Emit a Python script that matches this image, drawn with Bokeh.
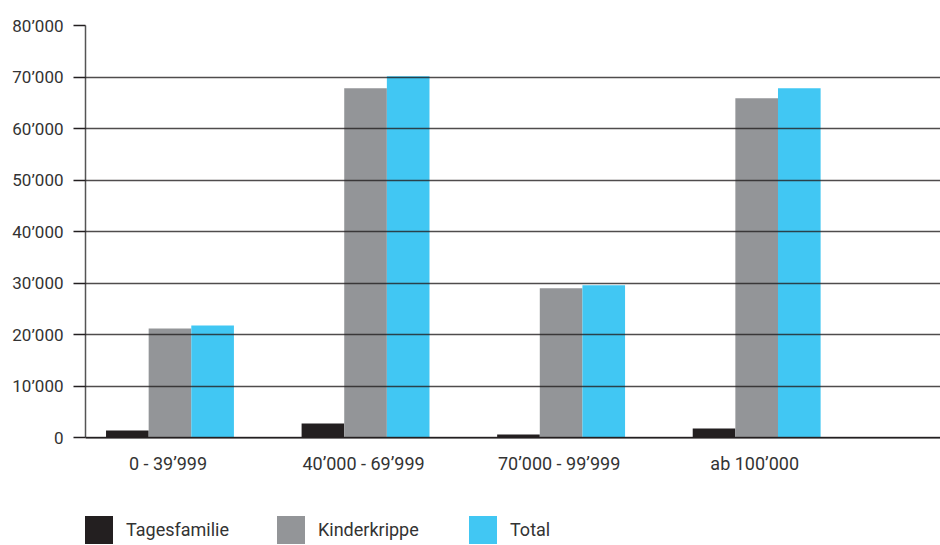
import numpy as np
from bokeh.plotting import figure
from bokeh.models import ColumnDataSource, FixedTicker, Legend, LegendItem, Range1d, Span
from bokeh.transform import dodge
from bokeh.core.properties import value
from bokeh.embed import file_html
from bokeh.resources import INLINE

categories = ["0 - 39’999", "40’000 - 69’999", "70’000 - 99’999", "ab 100’000"]
tagesfamilie = [1420, 2780, 640, 1800]
kinderkrippe = [21200, 67800, 29000, 65900]
total = [21800, 70150, 29600, 67800]
y_ticks = [0, 10000, 20000, 30000, 40000, 50000, 60000, 70000, 80000]
y_tick_labels = ["0", "10’000", "20’000", "30’000", "40’000", "50’000", "60’000", "70’000", "80’000"]

series_names = ["Tagesfamilie", "Kinderkrippe", "Total"]
colors = ["#231f20", "#939598", "#41c7f3"]

FONT = "Roboto"
TEXT = "#333333"

xs = np.arange(len(categories))
bw = 0.218
offsets = [-bw, 0.0, bw]

src = ColumnDataSource(dict(x=xs, t=tagesfamilie, k=kinderkrippe, tot=total,
                            cat=categories, zero=[0] * len(categories)))

p = figure(width=940, height=545, output_backend="svg", toolbar_location=None,
           x_range=Range1d(-0.432, 3.94), y_range=Range1d(-20900, 80000),
           x_axis_type=None,
           min_border_left=85, min_border_right=0, min_border_top=25, min_border_bottom=0)
p.outline_line_color = None
p.background_fill_color = "white"

renderers = []
for col, off, c in zip(["t", "k", "tot"], offsets, colors):
    r = p.vbar(x=dodge("x", off), top=col, width=bw, bottom=0, source=src,
               fill_color=c, line_color=None)
    renderers.append(r)

# category labels under the baseline
p.text(x="x", y="zero", text="cat", source=src, text_align="center", text_baseline="middle",
       x_offset=-2, y_offset=26, text_font=value(FONT), text_font_size="18px", text_color=TEXT)

p.yaxis.ticker = FixedTicker(ticks=y_ticks)
p.yaxis.bounds = (0, 80000)
p.yaxis.major_label_overrides = {v: l for v, l in zip(y_ticks, y_tick_labels)}
p.yaxis.major_tick_out = 12
p.yaxis.major_tick_in = 0
p.yaxis.major_tick_line_color = "#231f20"
p.yaxis.major_tick_line_width = 1.5
p.yaxis.minor_tick_line_color = None
p.yaxis.axis_line_color = "#555555"
p.yaxis.axis_line_width = 1.5
p.yaxis.major_label_standoff = 10
p.yaxis.major_label_text_font = FONT
p.yaxis.major_label_text_font_size = "17px"
p.yaxis.major_label_text_color = TEXT

p.ygrid.grid_line_color = "#231f20"
p.ygrid.grid_line_alpha = 0.8
p.ygrid.grid_line_width = 1.5
p.ygrid.level = "annotation"

p.add_layout(Span(location=0, dimension="width", line_color="#231f20", line_width=1.5))

legend = Legend(items=[LegendItem(label=n, renderers=[r]) for n, r in zip(series_names, renderers)],
                orientation="horizontal", location=(-4, -2),
                glyph_width=35, glyph_height=35, label_standoff=10, label_width=145,
                spacing=2, padding=0, margin=0, border_line_color=None,
                background_fill_alpha=0, label_text_font=FONT, label_text_font_size="18px",
                label_text_color=TEXT)
p.add_layout(legend, "center")

open("out.html", "w").write(file_html(p, INLINE))
